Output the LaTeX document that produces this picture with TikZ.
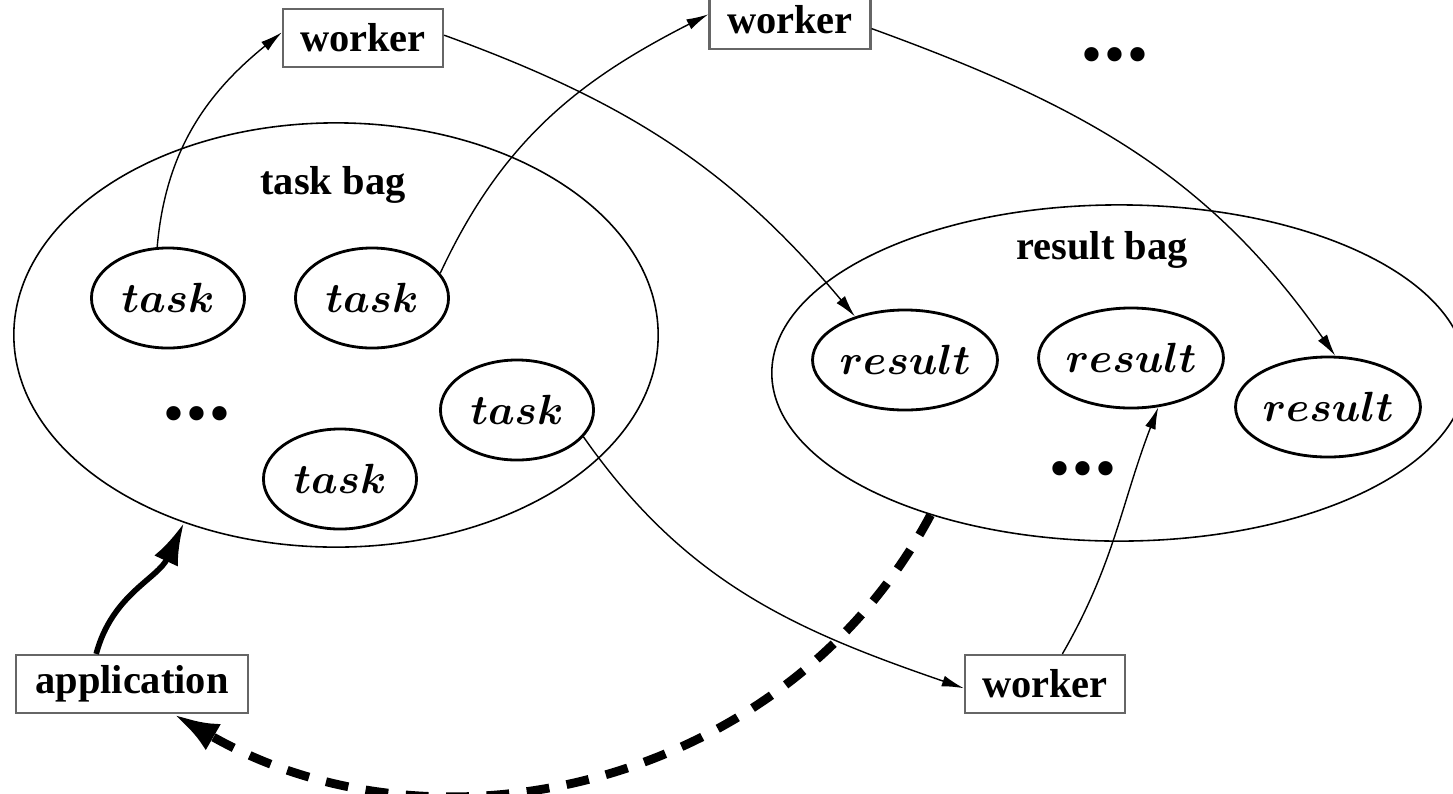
\documentclass[tikz,border=0pt]{standalone}
\usepackage{fontspec}
\setmainfont{Liberation Serif}
\usepackage{amsmath}
\usepackage{bm}
\usetikzlibrary{calc, positioning, arrows.meta, shapes.geometric}

\begin{document}
\begin{tikzpicture}[x=0.01cm, y=-0.01cm,
	bag/.style={draw, ellipse, line width=0.45pt, inner sep=0pt},
	item/.style={draw, ellipse, line width=0.8pt, inner sep=0pt, minimum width=1.53cm, minimum height=1cm, font=\fontsize{11.5}{13}\selectfont},
	box/.style={draw=black!60, line width=0.6pt, minimum width=1.6cm, minimum height=0.58cm, inner sep=0pt, font=\bfseries\fontsize{11.5}{13}\selectfont},
	lbl/.style={font=\bfseries\fontsize{11.5}{13}\selectfont},
	more/.style={font=\fontsize{17}{20}\selectfont},
	flow/.style={-{Latex[length=2.2mm, width=1.1mm]}, line width=0.4pt},
	feed/.style={-{Latex[length=4.2mm, width=2.6mm]}, line width=1.6pt},
	collect/.style={-{Latex[length=4.6mm, width=3mm]}, line width=2.5pt, dash pattern=on 6.5pt off 5pt}]

	\useasboundingbox (0,0) rectangle (1453,793);

	\node [bag, minimum width=6.44cm, minimum height=4.24cm] (taskbag) at (336,335) {};
	\node [bag, minimum width=6.94cm, minimum height=3.36cm] (resultbag) at (1119,373) {};

	\node [lbl] (tasklbl) at (333,185) {task bag};
	\node [lbl] (resultlbl) at (1102,250) {result bag};

	\node [item] (task1) at (168,298) {$\bm{task}$};
	\node [item] (task2) at (372,298) {$\bm{task}$};
	\node [item] (task3) at (517,410) {$\bm{task}$};
	\node [item] (task4) at (340,479) {$\bm{task}$};
	\node [more] (taskdots) at (197,420) {•\kern0.5pt•\kern0.5pt•};

	\node [item, minimum width=1.54cm] (result1) at (905,360) {$\bm{result}$};
	\node [item, minimum width=1.54cm] (result2) at (1131,358) {$\bm{result}$};
	\node [item, minimum width=1.54cm] (result3) at (1328,407) {$\bm{result}$};
	\node [more] (resultdots) at (1083,475) {•\kern0.5pt•\kern0.5pt•};

	\node [box] (worker1) at (363,38) {worker};
	\node [box, minimum width=1.61cm] (worker2) at (790,20) {worker};
	\node [box] (worker3) at (1045,684) {worker};
	\node [more] (workerdots) at (1115,61) {•\kern0.5pt•\kern0.5pt•};
	\node [box, minimum width=2.31cm] (application) at (132,684) {application};

	\draw [flow] (task1.102) to[out=85, in=-141] (worker1.176);
	\draw [flow] (task2.20) to[out=65, in=-153] (worker2.176);
	\draw [flow] (worker1.2) to[out=-20, in=130] (result1.139);
	\draw [flow] (worker2.-6) to[out=-20, in=125] (result3.82);
	\draw [flow] (task3.-22) to[out=-55, in=161] (worker3.183);
	\draw [flow] (worker3.60) to[out=60, in=-111] (result2.-61);

	\draw [feed] (application.140) to[out=75, in=-115] (taskbag.-129);
	\draw [collect] (resultbag.-143) to[out=-118, in=-30] (application.-36);

\end{tikzpicture}
\end{document}
